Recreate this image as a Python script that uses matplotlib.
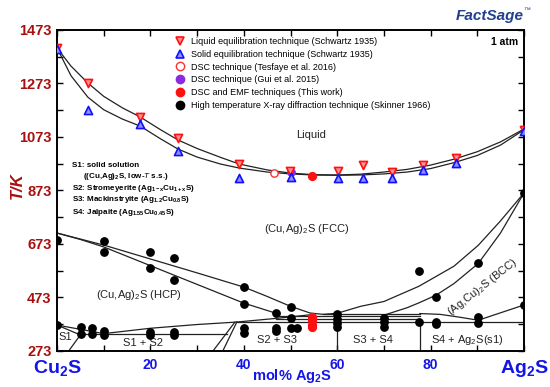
import matplotlib
matplotlib.use("Agg")
import matplotlib.pyplot as plt
from matplotlib.lines import Line2D

plt.rcParams['font.family'] = ['Liberation Sans', 'DejaVu Sans']
plt.rcParams['mathtext.fontset'] = 'custom'
plt.rcParams['mathtext.rm'] = 'Liberation Sans'
plt.rcParams['mathtext.it'] = 'Liberation Sans:italic'
plt.rcParams['mathtext.bf'] = 'Liberation Sans:bold'

# ---------------- data ----------------
liq_x = [0, 6.6, 17.8, 25.9, 39.0, 49.9, 60.2, 65.5, 71.8, 78.4, 85.4, 100]
liq_T = [1406, 1273, 1148, 1069, 972, 946, 946, 968, 944, 968, 994, 1100]

sol_x = [0, 6.6, 17.8, 25.9, 39.0, 50.0, 60.2, 65.5, 71.8, 78.4, 85.4, 100]
sol_T = [1403, 1174, 1122, 1021, 920, 922, 920, 920, 920, 950, 975, 1097]

tes_x = [46.4]
tes_T = [940]

gui_x = [50.0]
gui_T = [942]

this_x = [54.6, 54.6, 54.6, 54.6, 54.6]
this_T = [926, 400, 390, 371, 361]

xrd_x = [0, 0, 5.1, 5.1, 7.6, 7.6, 10, 10, 10, 10, 20, 20, 20, 20,
         25, 25, 25, 25, 40, 40, 40, 40, 47, 47, 47, 50, 50, 50, 51.3,
         60, 60, 60, 60, 70, 70, 70, 77.5, 77.5, 81.2, 81.2, 81.2,
         90.2, 90.2, 90.2, 100, 100]
xrd_T = [688, 370, 363, 337, 359, 337, 684, 643, 348, 333, 643, 583, 344, 333,
         621, 538, 344, 333, 512, 449, 359, 340, 415, 359, 348, 438, 398, 359, 359,
         411, 394, 379, 361, 398, 381, 361, 572, 383, 475, 383, 374,
         602, 400, 376, 864, 445]

# phase boundaries
liquidus_x = [0, 3, 6.6, 10, 14, 17.8, 22, 25.9, 30, 35, 39, 45, 50, 55, 60, 65, 70, 75, 80, 85, 90, 95, 100]
liquidus_T = [1406, 1338, 1275, 1225, 1182, 1148, 1102, 1062, 1030, 997, 972, 950, 938, 932, 931, 934, 942, 952, 968, 990, 1018, 1055, 1103]
solidus_x = liquidus_x
solidus_T = [1406, 1302, 1222, 1175, 1140, 1114, 1068, 1028, 998, 972, 957, 942, 935, 931, 930, 931, 935, 942, 955, 977, 1004, 1043, 1100]

hcp_up_x = [0, 10, 20, 30, 40, 45, 50, 54.2, 57, 60]
hcp_up_T = [714, 669, 617, 565, 512, 477, 440, 415, 410, 414]
hcp_lo_x = [0, 5, 10, 20, 30, 40, 47.3]
hcp_lo_T = [714, 690, 662, 592, 522, 452, 412]

fcc_up_x = [60, 65, 70, 77.5, 85, 90.2, 95, 100]
fcc_up_T = [414, 440, 458, 515, 590, 668, 760, 864]
bcc_up_x = [70.2, 75, 77.5, 81.2, 85, 90.2, 95, 100]
bcc_up_T = [408, 435, 453, 482, 525, 600, 715, 864]
bcc_lo_x = [77.7, 82, 86, 90.2, 100]
bcc_lo_T = [413, 410, 400, 388, 445]

hcp_bot_x = [10, 20, 30, 38.3, 47, 54]
hcp_bot_T = [338, 358, 372, 381, 395, 408]

s1_top_x = [0, 10]
s1_top_T = [370, 338]
s1_side_x = [0, 5, 2.5]
s1_side_T = [370, 333, 273]
s1s2_x = [5, 36.3]
s1s2_T = [336, 336]
s2a_x = [38.1, 33.4]
s2a_T = [381, 273]
s2b_x = [38.5, 35.5]
s2b_T = [381, 273]
inv1_x = [38.3, 100]
inv1_T = [381, 381]
inv2_x = [47, 77.7]
inv2_T = [394, 394]
inv3_x = [47, 77.7]
inv3_T = [402, 402]
inv4_x = [57, 77.7]
inv4_T = [411, 411]
s3_x = [60, 60]
s3_T = [273, 381]
s4_x = [77.7, 77.7]
s4_T = [273, 381]

y_ticks = [273, 473, 673, 873, 1073, 1273, 1473]
x_ticks = [0, 20, 40, 60, 80, 100]
x_labels = ['Cu$_\\mathbf{2}$S', '20', '40', '60', '80', 'Ag$_\\mathbf{2}$S']

# ---------------- figure ----------------
fig = plt.figure(figsize=(5.5, 3.87), dpi=100)
ax = fig.add_axes([57/550, 1 - 351/387, (524-57)/550, (351-30)/387])
ax.set_xlim(0, 100)
ax.set_ylim(273, 1473)

lw = 0.9
for bx, bt in [(liquidus_x, liquidus_T), (solidus_x, solidus_T),
               (hcp_up_x, hcp_up_T), (hcp_lo_x, hcp_lo_T),
               (fcc_up_x, fcc_up_T), (bcc_up_x, bcc_up_T), (bcc_lo_x, bcc_lo_T),
               (hcp_bot_x, hcp_bot_T), (s1_top_x, s1_top_T), (s1_side_x, s1_side_T),
               (s1s2_x, s1s2_T), (s2a_x, s2a_T), (s2b_x, s2b_T),
               (inv1_x, inv1_T), (inv2_x, inv2_T), (inv3_x, inv3_T), (inv4_x, inv4_T),
               (s3_x, s3_T), (s4_x, s4_T)]:
    ax.plot(bx, bt, color='#222222', lw=lw, zorder=2)

ax.scatter(gui_x, gui_T, s=28, color='#8a2be2', zorder=3)
ax.scatter(xrd_x, xrd_T, s=28, color='black', zorder=4)
ax.scatter(this_x, this_T, s=32, color='#ff1010', zorder=5)
ax.scatter(tes_x, tes_T, s=28, facecolor='white', edgecolor='#ff3030', lw=1.0, zorder=5)
ax.scatter(liq_x, liq_T, s=34, marker='v', facecolor='#ff9090', edgecolor='#ff1010', lw=1.2, zorder=6)
ax.scatter(sol_x, sol_T, s=34, marker='^', facecolor='#9090ff', edgecolor='#1010ff', lw=1.2, zorder=6)

# legend
handles = [
    Line2D([], [], ls='none', marker='v', ms=6, mfc='#ff9090', mec='#ff1010', mew=1.2),
    Line2D([], [], ls='none', marker='^', ms=6, mfc='#9090ff', mec='#1010ff', mew=1.2),
    Line2D([], [], ls='none', marker='o', ms=6, mfc='white', mec='#ff3030', mew=1.0),
    Line2D([], [], ls='none', marker='o', ms=6, mfc='#8a2be2', mec='#8a2be2'),
    Line2D([], [], ls='none', marker='o', ms=6, mfc='#ff1010', mec='#ff1010'),
    Line2D([], [], ls='none', marker='o', ms=6, mfc='black', mec='black'),
]
labels = ['Liquid equilibration technique (Schwartz 1935)',
          'Solid equilibration technique (Schwartz 1935)',
          'DSC technique (Tesfaye et al. 2016)',
          'DSC technique (Gui et al. 2015)',
          'DSC and EMF techniques (This work)',
          'High temperature X-ray diffraction technique (Skinner 1966)']
ax.legend(handles, labels, loc='upper left', bbox_to_anchor=(0.252, 0.978),
          frameon=False, fontsize=6.5, handlelength=1.2, handletextpad=0.6,
          labelspacing=0.42, borderpad=0, borderaxespad=0)

# region labels
ax.text(54.4, 1080, 'Liquid', fontsize=8, ha='center', va='center', color='#222222')
ax.text(53.5, 729, '(Cu,Ag)$_2$S (FCC)', fontsize=8, ha='center', va='center', color='#222222')
ax.text(17.6, 482, '(Cu,Ag)$_2$S (HCP)', fontsize=8, ha='center', va='center', color='#222222')
ax.text(91.2, 512, '(Ag,Cu)$_2$S (BCC)', fontsize=8, ha='center', va='center', rotation=38, color='#222222')
ax.text(1.8, 325, 'S1', fontsize=8, ha='center', va='center', color='#222222')
ax.text(18.4, 303, 'S1 + S2', fontsize=8, ha='center', va='center', color='#222222')
ax.text(47.1, 314, 'S2 + S3', fontsize=8, ha='center', va='center', color='#222222')
ax.text(67.7, 314, 'S3 + S4', fontsize=8, ha='center', va='center', color='#222222')
ax.text(87.8, 314, 'S4 + Ag$_2$S(s1)', fontsize=8, ha='center', va='center', color='#222222')
ax.text(98.8, 1428, '1 atm', fontsize=7.5, fontweight='bold', ha='right', va='center')

notes = ['S1: solid solution',
         '     ((Cu,Ag)$_\\mathbf{2}$S, low-$\\mathit{T}$ s.s.)',
         'S2: Stromeyerite (Ag$_\\mathbf{1-x}$Cu$_\\mathbf{1+x}$S)',
         'S3: Mackinstryite (Ag$_\\mathbf{1.2}$Cu$_\\mathbf{0.8}$S)',
         'S4: Jalpaite (Ag$_\\mathbf{1.55}$Cu$_\\mathbf{0.45}$S)']
note_T = [965, 927, 882, 838, 791]
for t, yy in zip(notes, note_T):
    ax.text(3.2, yy, t, fontsize=5.8, fontweight='bold', ha='left', va='center')

# axes styling
for s in ax.spines.values():
    s.set_linewidth(1.4)
ax.set_xticks(x_ticks)
ax.set_xticklabels(x_labels)
ax.set_xticks(range(10, 100, 20), minor=True)
ax.set_yticks(y_ticks)
ax.set_yticklabels([str(v) for v in y_ticks])
ax.set_yticks(range(373, 1473, 200), minor=True)
ax.tick_params(which='both', direction='in', top=True, right=True, length=4, width=1.0)
ax.tick_params(axis='x', which='major', pad=5)
ax.tick_params(axis='y', which='major', pad=4)
for lab in ax.get_yticklabels():
    lab.set_color('#a81010')
    lab.set_fontweight('bold')
    lab.set_fontsize(10.5)
xl = ax.get_xticklabels()
for i, lab in enumerate(xl):
    lab.set_color('#1515e6')
    lab.set_fontweight('bold')
    lab.set_fontsize(10)
xl[0].set_fontsize(14)
xl[-1].set_fontsize(14)

fig.text(292/550, 1 - 376/387, 'mol% Ag$_\\mathbf{2}$S', color='#1515e6', fontsize=10.5,
         fontweight='bold', ha='center', va='center')
fig.text(17/550, 1 - 186/387, 'T/K', color='#a81010', fontsize=12, fontweight='bold',
         fontstyle='italic', rotation=90, ha='center', va='center')

fig.text(490/550, 1 - 16/387, 'FactSage', color='#1f3f8f', fontsize=11, fontweight='bold',
         fontstyle='italic', ha='center', va='center')
fig.text(527/550, 1 - 10/387, '\u2122', color='#1f3f8f', fontsize=5, ha='center', va='center')

fig.savefig('out.png', dpi=100)
